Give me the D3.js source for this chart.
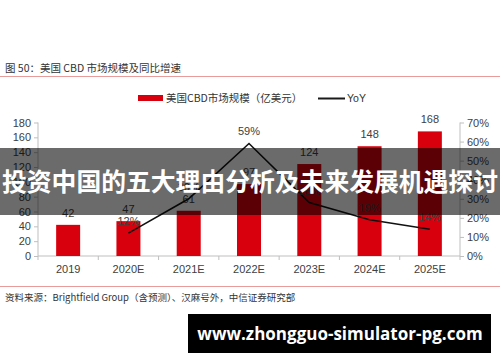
<!DOCTYPE html>
<html>
<head>
<meta charset="utf-8">
<script src="https://cdn.jsdelivr.net/npm/d3@7"></script>
<style>
  body { margin: 0; background: #fff; }
  svg { display: block; }
</style>
</head>
<body>
<div class="chart"></div>
<script>
const years = ["2019", "2020E", "2021E", "2022E", "2023E", "2024E", "2025E"];
const marketSize = [42, 47, 61, 97, 124, 148, 168];
const yoy = [null, 0.12, 0.30, 0.59, 0.28, 0.19, 0.14];
const leftTicks = [0, 20, 40, 60, 80, 100, 120, 140, 160, 180];
const rightTicks = [0, 0.1, 0.2, 0.3, 0.4, 0.5, 0.6, 0.7];

const width = 500;
const height = 362;
const cn = "'Noto Sans CJK SC', 'Liberation Sans', sans-serif";
const latin = "'Liberation Sans', Arial, sans-serif";
const gray = "#404040";
const axisColor = "#bfbfbf";
const red = "#d9000d";

const svg = d3.select(".chart").append("svg")
  .attr("width", width)
  .attr("height", height);

// title + separator
svg.append("text")
  .attr("x", 5).attr("y", 72)
  .style("font-family", cn).style("font-size", "10.5px")
  .attr("fill", "#333")
  .text("图 50：美国 CBD 市场规模及同比增速");

svg.append("line")
  .attr("x1", 0).attr("x2", width).attr("y1", 76.5).attr("y2", 76.5)
  .attr("stroke", "#e79b9b").attr("stroke-width", 1.2);

// legend
svg.append("rect")
  .attr("x", 138).attr("y", 95).attr("width", 25).attr("height", 6)
  .attr("fill", red);
svg.append("text")
  .attr("x", 166).attr("y", 102)
  .style("font-family", cn).style("font-size", "10.5px")
  .attr("fill", "#333")
  .text("美国CBD市场规模（亿美元）");
svg.append("line")
  .attr("x1", 318).attr("x2", 345).attr("y1", 98.5).attr("y2", 98.5)
  .attr("stroke", "#1a1a1a").attr("stroke-width", 2);
svg.append("text")
  .attr("x", 347).attr("y", 102)
  .style("font-family", latin).style("font-size", "10.5px")
  .attr("fill", "#333")
  .text("YoY");

// scales
const x = d3.scaleBand().domain(years).range([38, 460]);
const y = d3.scaleLinear().domain([0, 180]).range([256, 122.5]);
const y2 = d3.scaleLinear().domain([0, 0.7]).range([256, 122.5]);

const leftAxis = svg.append("g")
  .attr("transform", "translate(38,0)")
  .call(d3.axisLeft(y).tickValues(leftTicks).tickSize(4).tickPadding(3));

const rightAxis = svg.append("g")
  .attr("transform", "translate(460,0)")
  .call(d3.axisRight(y2).tickValues(rightTicks).tickSize(4).tickPadding(3)
    .tickFormat(d3.format(".0%")));

const bottomAxis = svg.append("g")
  .attr("transform", "translate(0,256)")
  .call(d3.axisBottom(x).tickSize(0).tickPadding(9));

// tick marks between categories on bottom axis
svg.append("g").selectAll("line")
  .data(years.concat(["end"]))
  .enter().append("line")
  .attr("x1", (d, i) => 38 + i * x.step())
  .attr("x2", (d, i) => 38 + i * x.step())
  .attr("y1", 256).attr("y2", 260)
  .attr("stroke", axisColor);

[leftAxis, rightAxis, bottomAxis].forEach(g => {
  g.select(".domain").attr("stroke", axisColor);
  g.selectAll(".tick line").attr("stroke", axisColor);
  g.selectAll("text")
    .style("font-family", latin).style("font-size", "11px")
    .attr("fill", gray);
});
leftAxis.select(".domain").attr("d", "M0,122.5V256");
rightAxis.select(".domain").attr("d", "M0,122.5V256");
bottomAxis.select(".domain").attr("d", "M38,0H460");

// bars
const barW = 24;
svg.append("g").selectAll("rect")
  .data(marketSize)
  .enter().append("rect")
  .attr("x", (d, i) => x(years[i]) + x.bandwidth() / 2 - barW / 2)
  .attr("y", d => y(d))
  .attr("width", barW)
  .attr("height", d => y(0) - y(d))
  .attr("fill", red);

svg.append("g").selectAll("text")
  .data(marketSize)
  .enter().append("text")
  .attr("x", (d, i) => x(years[i]) + x.bandwidth() / 2)
  .attr("y", d => y(d) - 8)
  .style("text-anchor", "middle")
  .style("font-family", latin).style("font-size", "11px")
  .attr("fill", gray)
  .text(d => d);

// yoy line
const pts = yoy.map((v, i) => ({ v: v, yr: years[i] })).filter(d => d.v !== null);
const line = d3.line()
  .x(d => x(d.yr) + x.bandwidth() / 2)
  .y(d => y2(d.v));

svg.append("path")
  .datum(pts)
  .attr("d", line)
  .attr("fill", "none")
  .attr("stroke", "#111")
  .attr("stroke-width", 1.6);

svg.append("g").selectAll("text")
  .data(pts)
  .enter().append("text")
  .attr("x", d => x(d.yr) + x.bandwidth() / 2)
  .attr("y", d => y2(d.v) - 8)
  .style("text-anchor", "middle")
  .style("font-family", latin).style("font-size", "11px")
  .attr("fill", gray)
  .text(d => Math.round(d.v * 100) + "%");

// bottom separator + source
svg.append("line")
  .attr("x1", 0).attr("x2", width).attr("y1", 286.5).attr("y2", 286.5)
  .attr("stroke", "#e79b9b").attr("stroke-width", 1.2);

svg.append("text")
  .attr("x", 5).attr("y", 301)
  .style("font-family", cn).style("font-size", "9.5px")
  .attr("fill", "#333")
  .text("资料来源：Brightfield Group（含预测）、汉麻号外，中信证券研究部");

// overlay banner
svg.append("rect")
  .attr("x", 0).attr("y", 148).attr("width", width).attr("height", 67)
  .attr("fill", "rgba(0,0,0,0.58)");
svg.append("text")
  .attr("x", width / 2).attr("y", 191)
  .style("text-anchor", "middle")
  .style("font-family", cn).style("font-size", "24.8px").style("font-weight", "700")
  .attr("fill", "#fff")
  .text("投资中国的五大理由分析及未来发展机遇探讨");

// watermark box
svg.append("rect")
  .attr("x", 188).attr("y", 314).attr("width", 303).attr("height", 39)
  .attr("fill", "#000");
svg.append("text")
  .attr("x", 340).attr("y", 340)
  .style("text-anchor", "middle")
  .style("font-family", "'Open Sans', sans-serif").style("font-size", "17px").style("font-weight", "700")
  .attr("fill", "#fff")
  .text("www.zhongguo-simulator-pg.com");
</script>
</body>
</html>
